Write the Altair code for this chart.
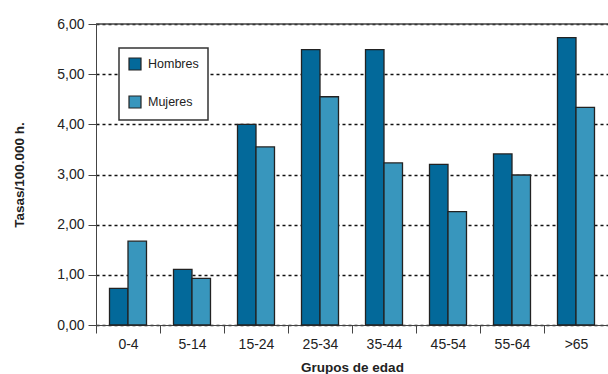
import altair as alt
import pandas as pd

# Tasas por 100.000 habitantes, por grupo de edad y sexo
grupos = ["0-4", "5-14", "15-24", "25-34", "35-44", "45-54", "55-64", ">65"]
hombres = [0.73, 1.11, 4.00, 5.49, 5.49, 3.20, 3.41, 5.73]
mujeres = [1.67, 0.93, 3.55, 4.55, 3.23, 2.26, 2.99, 4.34]
sexos = ["Hombres", "Mujeres"]
colores = ["#03699a", "#3896bd"]
marcas_y = [0, 1, 2, 3, 4, 5, 6]

FONT = "Liberation Sans"

df = pd.DataFrame(
    [{"grupo": g, "sexo": "Hombres", "valor": v} for g, v in zip(grupos, hombres)]
    + [{"grupo": g, "sexo": "Mujeres", "valor": v} for g, v in zip(grupos, mujeres)]
)

# solid frame line along the top of the plot area
top = alt.Chart(pd.DataFrame({"k": [0]})).mark_rule(
    color="#444", strokeWidth=1.3
).encode(y=alt.value(0), x=alt.value(0), x2=alt.value(512))

bars = alt.Chart(df).mark_bar(stroke="#222", strokeWidth=1.3).encode(
    x=alt.X(
        "grupo:N",
        sort=grupos,
        scale=alt.Scale(paddingInner=0, paddingOuter=0),
        axis=alt.Axis(
            title="Grupos de edad",
            labelAngle=0,
            tickBand="extent",
            tickSize=8,
            tickColor="#444",
            domainColor="#444",
            labelFontSize=14,
            labelColor="#222",
            labelPadding=4,
            titleFontSize=13.5,
            titleFontWeight="bold",
            titleColor="#222",
            titlePadding=9,
        ),
    ),
    xOffset=alt.XOffset(
        "sexo:N", sort=sexos, scale=alt.Scale(paddingInner=0, paddingOuter=0.73)
    ),
    y=alt.Y(
        "valor:Q",
        scale=alt.Scale(domain=[0, 6], nice=False, zero=True),
        axis=alt.Axis(
            title="Tasas/100.000 h.",
            values=marcas_y,
            labelExpr="replace(format(datum.value, '.2f'), '.', ',')",
            grid=True,
            gridDash=[3, 3],
            gridColor="#111",
            gridWidth=1.3,
            tickSize=8,
            tickColor="#444",
            domainColor="#444",
            labelFontSize=14,
            labelColor="#222",
            labelPadding=4,
            titleFontSize=13.5,
            titleFontWeight="bold",
            titleColor="#222",
            titlePadding=30,
        ),
    ),
    color=alt.Color(
        "sexo:N",
        scale=alt.Scale(domain=sexos, range=colores),
        legend=alt.Legend(
            title=None,
            orient="none",
            legendX=23,
            legendY=24,
            symbolType="square",
            symbolSize=144,
            symbolStrokeColor="#222",
            symbolStrokeWidth=1.2,
            symbolOpacity=1,
            labelFontSize=12.5,
            labelColor="#222",
            labelOffset=6,
            rowPadding=20,
            padding=9,
            fillColor="white",
            strokeColor="#333",
        ),
    ),
)

chart = (
    alt.layer(bars, top)
    .properties(
        width=512,
        height=301,
        autosize=alt.AutoSizeParams(type="none"),
        padding={"left": 96, "top": 24, "right": 0, "bottom": 49},
    )
    .configure(font=FONT)
    .configure_view(stroke=None)
    .configure_legend(strokeWidth=1.5)
)

chart.save("out.html", embed_options={"renderer": "svg", "actions": False})
